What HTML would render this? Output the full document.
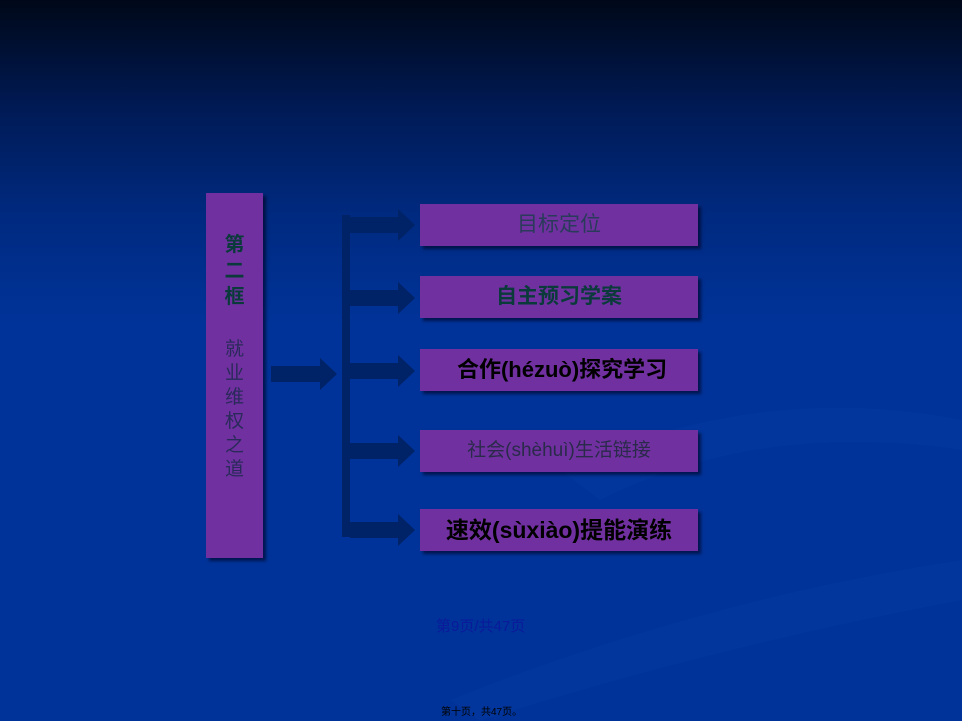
<!DOCTYPE html>
<html><head><meta charset="utf-8"><style>
html,body{margin:0;padding:0}
body{width:962px;height:721px;overflow:hidden;background:linear-gradient(180deg,#000818 0%,#001a55 15%,#002a80 30%,#003399 45%,#003399 100%);position:relative;font-family:"Liberation Sans","Noto Sans CJK SC",sans-serif}
.b{position:absolute;background:#7030A0;box-shadow:3px 3px 3px rgba(0,0,30,.6);text-align:center}
.r{left:420px;width:278px;height:42px;line-height:42px;font-size:21px}
svg{position:absolute;left:0;top:0}
</style></head><body>
<svg width="962" height="721">
<path d="M560 470 Q760 380 962 420 L962 450 Q760 420 600 500 Z" fill="#0a3fa6" opacity=".25"/>
<path d="M450 700 Q700 600 962 560 L962 600 Q700 650 480 721 Z" fill="#0a3fa6" opacity=".25"/>
<g fill="#002266">
<rect x="342" y="215" width="8" height="322"/>
<path d="M271 366 H320 V358 L337 374 L320 390 V382 H271 Z"/>
<path d="M350 217 H398 V209 L415 225 L398 241 V233 H350 Z"/>
<path d="M350 290 H398 V282 L415 298 L398 314 V306 H350 Z"/>
<path d="M350 363 H398 V355 L415 371 L398 387 V379 H350 Z"/>
<path d="M350 443 H398 V435 L415 451 L398 467 V459 H350 Z"/>
<path d="M350 522 H398 V514 L415 530 L398 546 V538 H350 Z"/>
</g>
</svg>
<div class="b" style="left:206px;top:193px;width:57px;height:365px;font-size:20px;line-height:26px">
<div style="margin-top:39px;color:#0a3a3a;font-weight:bold">第<br>二<br>框</div>
<div style="margin-top:28px;color:#2a2a5a;font-size:19px;line-height:24px">就<br>业<br>维<br>权<br>之<br>道</div>
</div>
<div class="b r" style="top:204px;color:#2a3a5a">目标定位</div>
<div class="b r" style="top:276px;color:#0a3a3a;font-weight:bold">自主预习学案</div>
<div class="b r" style="top:349px;color:#000;font-weight:bold;font-size:22px">&nbsp;合作(hézuò)探究学习</div>
<div class="b r" style="top:430px;color:#2a2a4a;font-size:19px">社会(shèhuì)生活链接</div>
<div class="b r" style="top:509px;color:#000;font-weight:bold;font-size:23px">速效(sùxiào)提能演练</div>
<div style="position:absolute;left:436px;top:615px;font-size:15px;color:#0a1a9a">第9页/共47页</div>
<div style="position:absolute;left:441px;top:703px;font-size:10px;color:#000">第十页，共47页。</div>
</body></html>
